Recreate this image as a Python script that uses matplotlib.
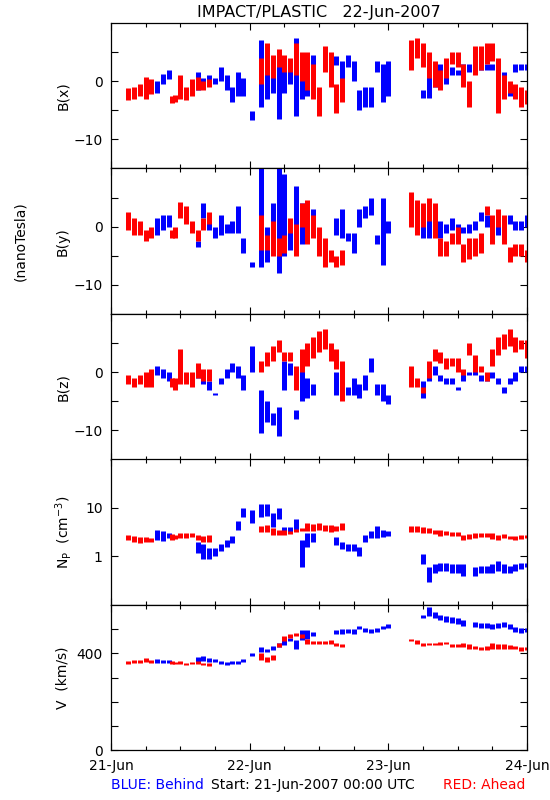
import numpy as np
import matplotlib
matplotlib.use("Agg")
import matplotlib.pyplot as plt
from matplotlib.ticker import FixedLocator, NullLocator, MultipleLocator

nan = np.nan

# hours since 21-Jun-2007 00:00 UTC, one sample per hour where data exist
t_red = [3, 4, 5, 6, 7, 10.5, 11, 12, 13, 14, 15, 16, 17,
         26, 27, 28, 29, 30, 31, 32, 33, 34, 35, 36, 37, 38, 39, 40,
         52, 53, 54, 55, 56, 57, 58, 59, 60, 61, 62, 63, 64, 65, 66, 67, 68, 69, 70, 71, 72]
t_blue = [8, 9, 10, 15, 16, 17, 18, 19, 20, 21, 22, 22.8, 24.4,
          26, 27, 28, 29, 30, 31, 32, 33, 34, 35,
          39, 40, 41, 42, 43, 44, 45, 46, 47, 48,
          54, 55, 56, 57, 58, 59, 60, 61, 62, 63, 64, 65, 66, 67, 68, 69, 70, 71, 72]

# B(x)  (low / high of the scatter in each hour)
bx_red_lo = [-3.2, -3.0, -2.5, -3.0, -2.2, -3.8, -3.6, -3.0, -3.2, -2.5, -1.5, -1.5, -1.0,
             -0.5, 1.0, 0.5, 2.5, 1.5, 1.5, 1.0, 0.0, -1.5, -3.0, -6.0, 1.5, -1.0, -5.5, -3.5,
             2.0, 4.0, 2.5, 0.5, -1.0, -1.5, 0.5, 3.0, 2.5, -1.0, -4.5, 1.0, 2.0, 3.0, 3.5, -5.5, -3.0, -2.0, -3.0, -4.5, -4.0]
bx_red_hi = [-1.2, -1.0, -0.5, 0.8, 0.3, -2.5, -2.4, 1.0, -1.0, 0.3, 0.8, 0.0, 0.3,
             4.0, 6.5, 4.5, 5.5, 4.5, 4.0, 6.5, 5.0, 5.0, 3.0, -1.0, 6.0, 5.0, -0.5, 0.5,
             7.0, 7.5, 6.5, 5.0, 3.5, 2.0, 4.0, 5.0, 5.0, 3.0, 0.0, 6.0, 6.0, 6.5, 6.5, 4.0, 1.0, 0.0, -0.5, -1.0, -1.5]
bx_blue_lo = [-2.0, -0.5, 0.3, -1.5, -1.2, -0.8, -0.5, 0.0, -1.5, -3.5, -2.5, -2.5, -6.7,
              -4.4, -3.0, -2.0, -6.5, -2.0, -0.5, -6.0, -3.0, -2.5, 1.5,
              2.8, -1.5, 2.5, 0.0, -5.0, -4.5, -4.5, 1.5, -3.5, -2.5,
              -2.9, -2.9, -1.0, -0.5, -0.5, 1.0, 1.0, 1.5, 1.5, 2.0, 2.0, 2.0, 2.0, 1.5, -0.5, -2.5, 1.5, 2.0, 2.0]
bx_blue_hi = [0.0, 1.3, 2.0, 1.5, 0.6, 1.1, 0.5, 2.5, 1.0, -1.0, 1.5, 0.5, -5.2,
              7.0, 3.0, 2.5, 3.0, 2.0, 3.0, 7.5, 4.5, 4.8, 4.5,
              4.3, 3.5, 4.5, 3.5, -1.5, -1.0, -1.0, 3.5, 3.0, 3.5,
              -1.5, 2.0, 3.0, 3.0, 2.5, 2.5, 2.0, 3.0, 3.0, 3.0, 2.8, 3.0, 3.0, 3.0, 1.5, -0.5, 3.0, 3.0, 3.0]

# B(y)
by_red_lo = [-0.5, -1.5, -1.5, -2.5, -2.0, -2.0, -2.0, 1.5, 0.5, -1.0, -2.5, -0.5, 0.5,
             -4.0, -4.0, -5.0, -5.0, -4.5, -1.0, -5.0, 0.0, -3.0, -2.0, -5.0, -7.0, -6.0, -7.0, -6.5,
             0.0, -1.5, 0.0, 1.0, -2.0, -5.0, -5.0, -3.0, -3.0, -6.0, -5.5, -5.0, -4.5, 2.0, -3.0, 0.0, -3.0, -6.0, -5.0, -5.0, -6.0]
by_red_hi = [2.5, 1.5, 1.0, -0.5, 0.0, -0.5, 0.0, 4.3, 3.5, 1.0, -0.5, 1.5, 2.5,
             2.0, -1.5, 1.0, -2.0, -1.5, 1.5, 0.5, 4.0, 4.5, 2.0, 0.0, -2.0, -4.0, -5.0, -4.0,
             6.0, 4.5, 4.0, 5.0, 4.0, -2.0, -2.5, -1.0, 0.0, -3.0, -2.0, -2.0, -1.0, 3.5, 2.0, 3.0, 2.0, -3.5, -3.0, -3.0, -4.0]
by_blue_lo = [-1.5, -0.5, 0.0, -3.5, 1.5, -0.5, -2.0, -1.5, -1.0, -1.0, -1.0, -4.5, -7.0,
              -7.0, -6.0, -4.0, -8.0, -5.0, -4.0, -3.0, -3.0, -2.0, -1.0,
              -1.5, -2.0, -2.5, -4.5, 0.0, 1.5, 2.0, -3.0, -6.5, -1.0,
              -2.0, -2.0, -1.5, -2.0, -1.0, -0.5, -1.0, -1.0, -1.0, -0.5, 1.0, 0.0, -1.0, -1.5, -1.0, 0.5, -0.5, -0.5, 0.0]
by_blue_hi = [1.5, 2.0, 2.0, -2.5, 4.0, 2.0, 0.0, 2.0, 0.5, 1.0, 3.5, -2.0, -6.0,
              10.0, 0.0, 4.0, 10.0, 9.0, 0.0, 7.0, 4.0, 4.0, 3.0,
              1.5, 3.0, -1.0, -1.0, 3.0, 3.5, 5.0, -1.5, 5.0, 1.0,
              2.0, 3.0, 1.5, 1.0, 0.5, 1.5, 0.5, 0.0, 0.5, 1.0, 2.5, 2.0, 0.5, 1.5, 0.5, 2.0, 1.0, 1.0, 2.0]

# B(z)
bz_red_lo = [-2.0, -2.5, -2.0, -2.5, -2.5, -2.5, -3.0, -2.0, -2.0, -2.5, -1.0, -1.5, -1.5,
             0.0, 1.0, 2.0, 3.5, 2.0, 2.0, -3.0, 0.0, 1.0, 2.5, 3.5, 4.0, 2.0, 0.5, -5.0,
             -2.5, -2.5, -3.5, -1.0, 2.0, 1.5, 0.5, 1.0, 0.0, -0.5, 3.0, 0.0, 0.0, -1.5, 1.0, 3.0, 4.0, 4.5, 3.5, 4.0, 2.5]
bz_red_hi = [-0.5, -1.0, -0.5, 0.0, 0.5, -1.0, -1.0, 4.0, 0.0, 0.0, 1.5, 0.5, 0.5,
             2.0, 3.5, 4.5, 5.5, 3.5, 3.5, 1.0, 4.0, 5.0, 6.0, 7.0, 7.5, 5.0, 4.0, 2.0,
             1.0, -1.0, -2.5, 2.0, 4.0, 3.5, 2.5, 2.5, 2.5, 0.5, 5.0, 3.0, 1.0, 0.0, 4.0, 6.0, 6.5, 7.5, 6.0, 5.5, 5.5]
bz_blue_lo = [-0.5, -1.0, -1.5, -1.0, -2.0, -3.0, -4.0, -2.0, -1.0, 0.0, -1.0, -3.0, 0.0,
              -10.5, -8.5, -9.0, -11.0, -3.0, -0.5, -8.0, -5.0, -4.5, -4.0,
              -4.0, -4.5, -4.0, -4.0, -4.5, -3.0, 0.0, -4.0, -5.0, -5.5,
              -4.5, -1.5, -0.5, -1.5, -2.0, -2.0, -3.0, -1.5, -0.5, -0.5, -1.5, -1.5, -1.0, -2.0, -3.5, -2.0, -1.5, 0.0, 0.0]
bz_blue_hi = [1.0, 0.5, 0.0, 0.0, 0.0, -1.5, -3.5, -1.0, 0.5, 1.5, 1.0, -0.5, 4.5,
              -3.0, -5.0, -7.0, -6.0, 2.0, 1.5, -6.5, 1.0, -1.0, -2.0,
              0.0, -3.0, -2.5, -1.0, -2.0, -0.5, 2.5, -2.0, -2.0, -4.0,
              -1.5, -0.5, 1.0, -0.5, -1.0, -1.0, -2.5, 0.0, 0.0, 0.5, -0.5, -0.5, 0.0, -1.0, -2.5, -1.0, 0.0, 1.0, 1.0]

# proton density (cm^-3)
np_red_lo = [2.2, 2.0, 1.9, 2.0, 2.0, 2.2, 2.3, 2.4, 2.4, 2.5, 2.2, 2.0, 2.0,
             3.2, 3.2, 2.8, 2.8, 2.8, 2.9, 3.2, 3.3, 3.3, 3.4, 3.6, 3.3, 3.2, 3.3, 3.6,
             3.2, 3.2, 3.0, 3.0, 2.9, 2.7, 2.8, 2.7, 2.6, 2.2, 2.3, 2.4, 2.5, 2.5, 2.3, 2.2, 2.4, 2.3, 2.2, 2.3, 2.4]
np_red_hi = [2.8, 2.6, 2.5, 2.5, 2.4, 2.9, 2.8, 3.0, 3.1, 3.1, 2.8, 2.6, 2.8,
             4.2, 4.5, 3.8, 3.5, 3.5, 3.4, 3.7, 3.8, 4.9, 4.6, 4.8, 4.4, 4.5, 4.2, 4.8,
             4.2, 4.2, 4.0, 3.9, 3.6, 3.5, 3.4, 3.2, 3.2, 2.8, 2.9, 3.1, 3.0, 3.1, 3.0, 2.8, 2.9, 2.7, 2.6, 2.8, 2.8]
np_blue_lo = [2.2, 2.1, 2.4, 1.2, 0.9, 0.9, 1.0, 1.3, 1.6, 1.9, 3.5, 6.5, 5.0,
              6.5, 7.0, 4.0, 6.0, 3.0, 3.0, 3.5, 0.6, 1.6, 2.0,
              1.7, 1.4, 1.3, 1.3, 1.0, 2.0, 2.4, 2.4, 2.5, 2.6,
              0.7, 0.3, 0.45, 0.5, 0.5, 0.45, 0.45, 0.4, nan, 0.4, 0.45, 0.45, 0.45, 0.5, 0.45, 0.45, 0.5, 0.55, 0.6]
np_blue_hi = [3.6, 3.4, 3.0, 2.0, 1.8, 1.5, 1.5, 1.8, 2.2, 2.6, 5.5, 10.0, 9.0,
              12.0, 12.0, 8.0, 10.0, 4.0, 4.0, 6.0, 2.2, 3.0, 3.0,
              2.5, 2.0, 1.8, 1.8, 1.6, 2.8, 3.3, 4.2, 3.5, 3.4,
              1.1, 0.6, 0.7, 0.75, 0.75, 0.7, 0.7, 0.7, nan, 0.6, 0.65, 0.65, 0.7, 0.8, 0.7, 0.65, 0.7, 0.75, 0.75]

# bulk speed (km/s)
v_red_lo = [358, 360, 362, 365, 362, 355, 355, 355, 352, 355, 355, 352, 350,
            375, 365, 372, 425, 450, 465, 470, 465, 440, 440, 438, 438, 438, 430, 425,
            450, 440, 432, 435, 435, 435, 437, 425, 425, 425, 420, 420, 415, 415, 420, 420, 420, 420, 420, 412, 415]
v_red_hi = [370, 372, 372, 380, 372, 368, 365, 368, 362, 366, 368, 362, 362,
            400, 385, 392, 445, 470, 480, 485, 480, 460, 452, 450, 452, 455, 445, 440,
            460, 455, 445, 445, 445, 448, 448, 438, 440, 442, 438, 432, 425, 430, 442, 440, 438, 435, 430, 425, 428]
v_blue_lo = [362, 360, 362, 365, 370, 365, 365, 355, 352, 355, 355, 365, 390,
             405, 405, 415, 425, 435, 450, 420, 455, 460, 470,
             480, 480, 485, 480, 500, 490, 485, 490, 500, 505,
             545, 555, 545, 540, 530, 525, 520, 515, nan, 510, 505, 505, 500, 505, 510, 500, 490, 485, 490]
v_blue_hi = [378, 375, 372, 385, 390, 380, 378, 368, 365, 368, 370, 378, 400,
             425, 420, 430, 445, 460, 465, 455, 495, 495, 490,
             495, 500, 500, 500, 515, 505, 500, 505, 515, 520,
             560, 590, 570, 560, 555, 550, 545, 540, nan, 530, 525, 525, 520, 525, 530, 520, 510, 505, 505]

day_ticks = [0, 24, 48, 72]
day_labels = ["21-Jun", "22-Jun", "23-Jun", "24-Jun"]

RED = "#ff0000"
BLUE = "#0000ff"

plt.rcParams["font.family"] = "DejaVu Sans"
plt.rcParams["font.size"] = 10

fig = plt.figure(figsize=(5.5, 8), dpi=100)

left, width, height = 0.2018, 0.7564, 0.1819
bottoms = [0.7894, 0.6075, 0.4256, 0.24375, 0.0619]

panels = [
    ("B(x)", bx_red_lo, bx_red_hi, bx_blue_lo, bx_blue_hi),
    ("B(y)", by_red_lo, by_red_hi, by_blue_lo, by_blue_hi),
    ("B(z)", bz_red_lo, bz_red_hi, bz_blue_lo, bz_blue_hi),
    ("N$_{\\rm P}$  (cm$^{-3}$)", np_red_lo, np_red_hi, np_blue_lo, np_blue_hi),
    ("V  (km/s)", v_red_lo, v_red_hi, v_blue_lo, v_blue_hi),
]

lw = 3.6
for i, (label, rlo, rhi, blo, bhi) in enumerate(panels):
    ax = fig.add_axes([left, bottoms[i], width, height])
    ax.vlines(t_blue, blo, bhi, color=BLUE, lw=lw)
    ax.vlines(t_red, rlo, rhi, color=RED, lw=lw)
    ax.set_xlim(0, 72)
    if i < 3:
        ax.set_ylim(-15, 10)
        ax.yaxis.set_major_locator(FixedLocator([-10, -5, 0, 5]))
        ax.set_yticklabels(["\u221210", "", "0", ""])
    elif i == 3:
        ax.set_yscale("log")
        ax.set_ylim(0.1, 100)
        ax.yaxis.set_major_locator(FixedLocator([1, 10]))
        ax.yaxis.set_minor_locator(NullLocator())
        ax.set_yticklabels(["1", "10"])
    else:
        ax.set_ylim(0, 600)
        ax.yaxis.set_major_locator(FixedLocator([0, 100, 200, 300, 400, 500]))
        ax.set_yticklabels(["0", "", "", "", "400", ""])
    ax.xaxis.set_major_locator(FixedLocator(day_ticks))
    ax.xaxis.set_minor_locator(MultipleLocator(6))
    ax.tick_params(which="both", direction="in", top=True, right=True, labelsize=10, width=0.8)
    ax.tick_params(axis="x", which="major", length=5)
    ax.tick_params(axis="x", which="minor", length=3)
    ax.tick_params(axis="y", which="major", length=5, pad=6)
    if i == 4:
        ax.set_xticklabels(day_labels)
        ax.tick_params(axis="x", pad=6)
    else:
        ax.set_xticklabels([])
    for s in ax.spines.values():
        s.set_linewidth(0.9)
    fig.text(63 / 550, bottoms[i] + height / 2, label, rotation=90,
             ha="center", va="center", fontsize=10)

fig.text(20 / 550, 1 - 241 / 800, "(nanoTesla)", rotation=90, ha="center", va="center", fontsize=10)
fig.text(319 / 550, 1 - 12 / 800, "IMPACT/PLASTIC   22-Jun-2007", ha="center", va="center", fontsize=11.5)
fig.text(111 / 550, 1 - 785 / 800, "BLUE: Behind", color=BLUE, ha="left", va="center", fontsize=10)
fig.text(211 / 550, 1 - 785 / 800, "Start: 21-Jun-2007 00:00 UTC", ha="left", va="center", fontsize=10)
fig.text(525 / 550, 1 - 785 / 800, "RED: Ahead", color=RED, ha="right", va="center", fontsize=10)

fig.savefig("out.png", dpi=100)
